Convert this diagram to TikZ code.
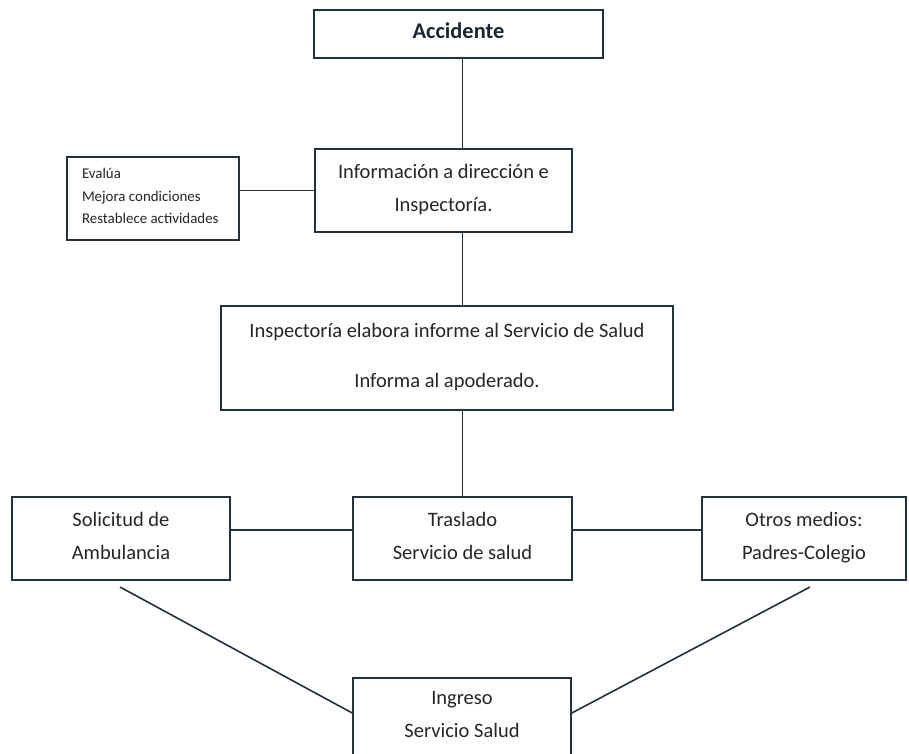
\documentclass[tikz,border=0pt]{standalone}
\usepackage{fontspec}
\setmainfont{Carlito}
\definecolor{edge}{HTML}{26303C}
\definecolor{ink}{HTML}{262626}
\definecolor{navy}{HTML}{1C2533}
\newcommand\lst{\rule[-0.3em]{0pt}{0.95em}}
\tikzset{
  box/.style={draw=edge, line width=1.6pt, fill=white, rectangle, inner sep=0pt, align=center, text=ink,
    font=\fontsize{20.5}{33}\selectfont},
  conn/.style={draw=edge, line width=1.6pt}
}
\begin{document}
\begin{tikzpicture}[x=1pt,y=-1pt]
\useasboundingbox (0,0) rectangle (909,753);
% boxes
\node[box, minimum width=289, minimum height=48, font=\fontsize{22.4}{28}\selectfont\bfseries, text=navy]
  (acc) at (458.5,34) {\lst Accidente};
\node[box, minimum width=257, minimum height=83] (info) at (443.5,190.5)
  {\lst Información a dirección e\\Inspectoría.\lst};
\node[box, minimum height=83, text width=142, inner xsep=15, align=flush left,
  font=\fontsize{14.9}{22.5}\selectfont] (eval) at (153,198.5)
  {\lst Evalúa\\Mejora condiciones\\Restablece actividades\lst};
\node[box, minimum width=452, minimum height=104, font=\fontsize{20.5}{50}\selectfont] (insp) at (447,358)
  {\lst Inspectoría elabora informe al Servicio de Salud\\Informa al apoderado.\lst};
\node[box, minimum width=219, minimum height=83] (tras) at (462.5,538.5)
  {\lst Traslado\\Servicio de salud\lst};
\node[box, minimum width=218, minimum height=83] (sol) at (121,538.5)
  {\lst Solicitud de\\Ambulancia\lst};
\node[box, minimum width=204, minimum height=83] (otros) at (804,538.5)
  {\lst Otros medios:\\Padres-Colegio\lst};
\node[box, minimum width=218, minimum height=79] (ing) at (462,717.5)
  {\lst Ingreso\\Servicio Salud\lst};
% helper coordinates
\coordinate (row) at (0,530);
\coordinate (ingy) at (0,713);
\coordinate (dl) at (120,587);
\coordinate (dr) at (810,587);
% connectors
\draw[conn] (acc.south -| tras.north) -- (info.north -| tras.north);
\draw[conn] (info.south -| tras.north) -- (insp.north -| tras.north);
\draw[conn] (insp.south -| tras.north) -- (tras.north);
\draw[conn] (eval.east |- info.west) -- (info.west);
\draw[conn] (sol.east |- row) -- (tras.west |- row);
\draw[conn] (tras.east |- row) -- (otros.west |- row);
\draw[conn] (dl) -- (ing.west |- ingy);
\draw[conn] (dr) -- (ing.east |- ingy);
\end{tikzpicture}
\end{document}
